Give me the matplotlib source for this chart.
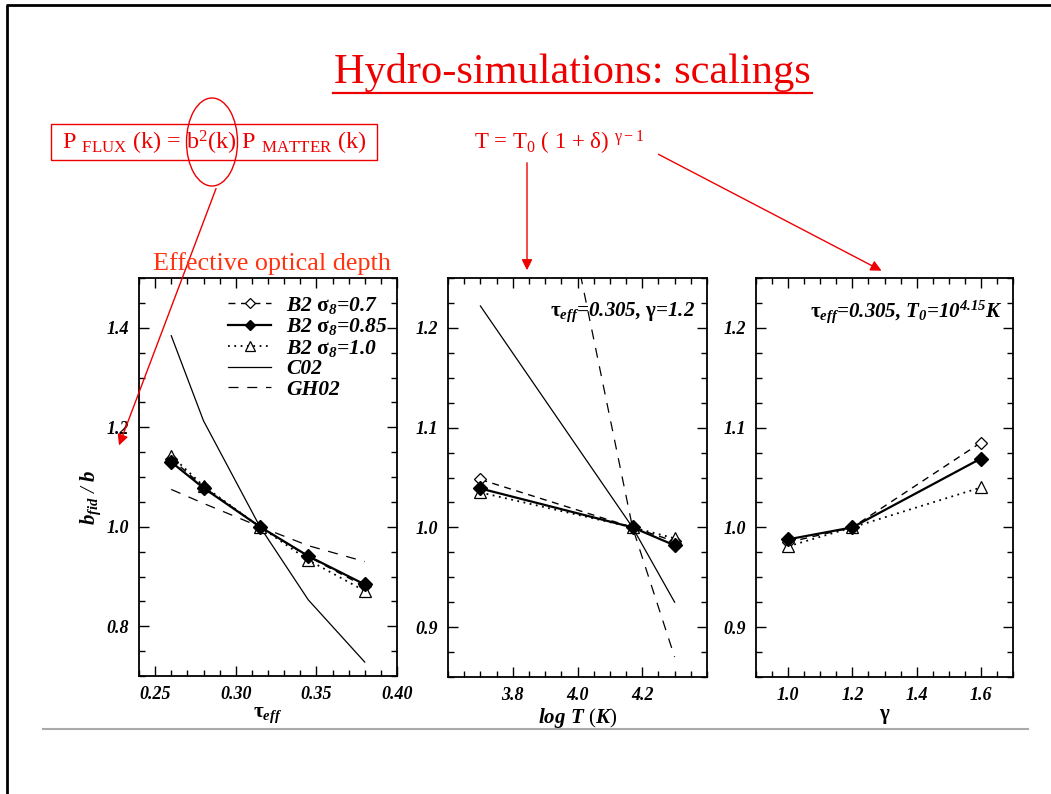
import matplotlib
matplotlib.use('Agg')
import matplotlib.pyplot as plt
from matplotlib.patches import Ellipse, Rectangle
from matplotlib.ticker import MultipleLocator, FormatStrFormatter
from matplotlib.lines import Line2D

# ---------------- data ----------------
tau = [0.26, 0.28, 0.315, 0.345, 0.38]
tau_b2_07 = [1.137, 1.080, 1.0, 0.940, 0.880]
tau_b2_085 = [1.130, 1.078, 1.0, 0.941, 0.884]
tau_b2_10 = [1.143, 1.082, 1.0, 0.933, 0.871]
tau_c02 = [1.384, 1.213, 1.0, 0.853, 0.728]
tau_gh02 = [1.075, 1.047, 1.0, 0.962, 0.930]

logT = [3.7, 4.17, 4.3]
T_b2_07 = [1.048, 1.0, 0.986]
T_b2_085 = [1.039, 1.0, 0.982]
T_b2_10 = [1.035, 1.0, 0.989]
T_c02 = [1.222, 1.0, 0.925]
T_gh02 = [1.74, 1.0, 0.870]

gam = [1.0, 1.2, 1.6]
g_b2_07 = [0.985, 1.0, 1.085]
g_b2_085 = [0.988, 1.0, 1.069]
g_b2_10 = [0.981, 1.0, 1.040]

legend_labels = [r'B2 $\mathbf{\sigma}_{\mathsf{8}}$=0.7', r'B2 $\mathbf{\sigma}_{\mathsf{8}}$=0.85',
                 r'B2 $\mathbf{\sigma}_{\mathsf{8}}$=1.0', 'C02', 'GH02']

plt.rcParams.update({
    'font.family': ['Liberation Serif', 'DejaVu Serif'],
    'font.style': 'italic',
    'font.weight': 'bold',
    'mathtext.fontset': 'custom',
    'mathtext.rm': 'Liberation Serif:style=normal:weight=regular',
    'mathtext.it': 'Liberation Serif:style=italic:weight=bold',
    'mathtext.sf': 'Liberation Serif:style=italic:weight=bold',
    'mathtext.bf': 'Liberation Serif:style=normal:weight=bold',
})

W, H = 1051, 794
fig = plt.figure(figsize=(W / 100, H / 100), dpi=100)


def px_axes(x0, y0, x1, y1):
    return fig.add_axes([x0 / W, 1 - y1 / H, (x1 - x0) / W, (y1 - y0) / H])


ax1 = px_axes(139, 278, 397, 676)
ax2 = px_axes(448, 278, 707, 677)
ax3 = px_axes(756, 278, 1013, 677)

st07 = dict(color='black', ls=(0, (5, 4)), lw=1.0, marker='D', ms=6.5, mfc='white', mec='black', mew=0.9)
st085 = dict(color='black', ls='-', lw=1.6, marker='D', ms=7, mfc='black', mec='black')
st10 = dict(color='black', ls=(0, (1, 2.5)), lw=1.3, marker='^', ms=8, mfc='white', mec='black', mew=0.9)
stc02 = dict(color='black', ls='-', lw=0.9)
stgh = dict(color='black', ls=(0, (8, 7)), lw=0.9)

# panel 1
ax1.plot(tau, tau_c02, **stc02)
ax1.plot(tau, tau_gh02, **stgh)
ax1.plot(tau, tau_b2_07, **st07)
ax1.plot(tau, tau_b2_10, **st10)
ax1.plot(tau, tau_b2_085, **st085)
ax1.set_xlim(0.24, 0.40)
ax1.set_ylim(0.7, 1.5)
ax1.set_xticks([0.25, 0.30, 0.35, 0.40])
ax1.set_yticks([0.8, 1.0, 1.2, 1.4])
ax1.xaxis.set_minor_locator(MultipleLocator(0.01))
ax1.yaxis.set_minor_locator(MultipleLocator(0.05))
ax1.xaxis.set_major_formatter(FormatStrFormatter('%.2f'))
ax1.yaxis.set_major_formatter(FormatStrFormatter('%.1f'))
ax1.set_xlabel(r'$\mathbf{\tau}_{eff}$', fontsize=15)
ax1.set_ylabel(r'$b_{fid}$ / $b$', fontsize=15)
ax1.yaxis.set_label_coords(-0.14, 0.45)

handles = [
    Line2D([], [], **{**st07, 'ms': 5.5}),
    Line2D([], [], **{**st085, 'ms': 5.5}),
    Line2D([], [], **{**st10, 'ms': 6.5}),
    Line2D([], [], **stc02),
    Line2D([], [], **stgh),
]
ax1.legend(handles, legend_labels, loc='upper left', bbox_to_anchor=(0.345, 0.958),
           frameon=False, fontsize=15.5, handlelength=2.0, handletextpad=0.7,
           labelspacing=0.02, borderpad=0, borderaxespad=0)

# panel 2
ax2.plot(logT, T_c02, **stc02)
ax2.plot(logT, T_gh02, **stgh)
ax2.plot(logT, T_b2_07, **st07)
ax2.plot(logT, T_b2_10, **st10)
ax2.plot(logT, T_b2_085, **st085)
ax2.set_xlim(3.6, 4.4)
ax2.set_ylim(0.85, 1.25)
ax2.set_xticks([3.8, 4.0, 4.2])
ax2.xaxis.set_minor_locator(MultipleLocator(0.05))
ax2.set_xlabel(r'$log\ T\ (K)$', fontsize=15)
ax2.text(0.955, 0.915, r'$\mathbf{\tau}_{eff}$=0.305, $\mathbf{\gamma}$=1.2', transform=ax2.transAxes,
         ha='right', va='center', fontsize=15)

# panel 3
ax3.plot(gam, g_b2_07, **st07)
ax3.plot(gam, g_b2_10, **st10)
ax3.plot(gam, g_b2_085, **st085)
ax3.set_xlim(0.9, 1.7)
ax3.set_ylim(0.85, 1.25)
ax3.set_xticks([1.0, 1.2, 1.4, 1.6])
ax3.xaxis.set_minor_locator(MultipleLocator(0.05))
ax3.set_xlabel(r'$\mathbf{\gamma}$', fontsize=15)
ax3.text(0.96, 0.915, r'$\mathbf{\tau}_{eff}$=0.305, $T_{\mathsf{0}}$=10$^{\mathsf{4.15}}$K',
         transform=ax3.transAxes, ha='right', va='center', fontsize=15)

for ax in (ax2, ax3):
    ax.set_yticks([0.9, 1.0, 1.1, 1.2])
    ax.yaxis.set_minor_locator(MultipleLocator(0.025))
    ax.xaxis.set_major_formatter(FormatStrFormatter('%.1f'))
    ax.yaxis.set_major_formatter(FormatStrFormatter('%.1f'))

for ax in (ax1, ax2, ax3):
    ax.tick_params(which='both', direction='in', top=True, right=True, width=1.0, labelsize=13, pad=7)
    ax.tick_params(which='major', length=7)
    ax.tick_params(which='minor', length=4)
    for s in ax.spines.values():
        s.set_linewidth(1.3)
    ax.xaxis.labelpad = 2

# ---------------- slide overlay ----------------
ov = fig.add_axes([0, 0, 1, 1], zorder=10)
ov.set_xlim(0, W)
ov.set_ylim(H, 0)
ov.axis('off')
ov.patch.set_alpha(0)

ov.plot([6, W], [5, 5], color='black', lw=2, solid_capstyle='butt')
ov.plot([7, 7], [5, H], color='black', lw=2, solid_capstyle='butt')
ov.plot([43, 1028], [729, 729], color='#aaaaaa', lw=1.5)

red = '#ee0000'
txt = dict(style='normal', weight='normal', color=red)
ov.text(572, 73, 'Hydro-simulations: scalings', ha='center', va='center', fontsize=30.5, **txt)
ov.plot([333, 812], [93, 93], color=red, lw=1.6)

ov.add_patch(Rectangle((51, 124), 326, 36, fill=False, ec=red, lw=1.0))
ov.text(214, 143, r'P ${}_{\mathrm{FLUX}}$ (k) = b$^{\mathrm{2}}$(k) P ${}_{\mathrm{MATTER}}$ (k)',
        ha='center', va='center', fontsize=17.4, **txt)
ov.add_patch(Ellipse((212, 142), 51, 88, fill=False, ec=red, lw=1.0))
ov.annotate('', xy=(118, 448), xytext=(217, 186),
            arrowprops=dict(arrowstyle='-|>', color=red, lw=1.0, mutation_scale=16))
ov.text(272, 264, 'Effective optical depth', ha='center', va='center', fontsize=18.8,
        style='normal', weight='normal', color='#ff3311')

ov.text(559, 143, r'T = T$_{\mathrm{0}}$ ( 1 + δ) ${}^{\mathrm{\gamma-1}}$', ha='center', va='center',
        fontsize=16.5, **txt)
ov.annotate('', xy=(527, 273), xytext=(527, 160),
            arrowprops=dict(arrowstyle='-|>', color=red, lw=1.0, mutation_scale=16))
ov.annotate('', xy=(884, 272), xytext=(656, 153),
            arrowprops=dict(arrowstyle='-|>', color=red, lw=1.0, mutation_scale=16))

fig.savefig('out.png', dpi=100)
